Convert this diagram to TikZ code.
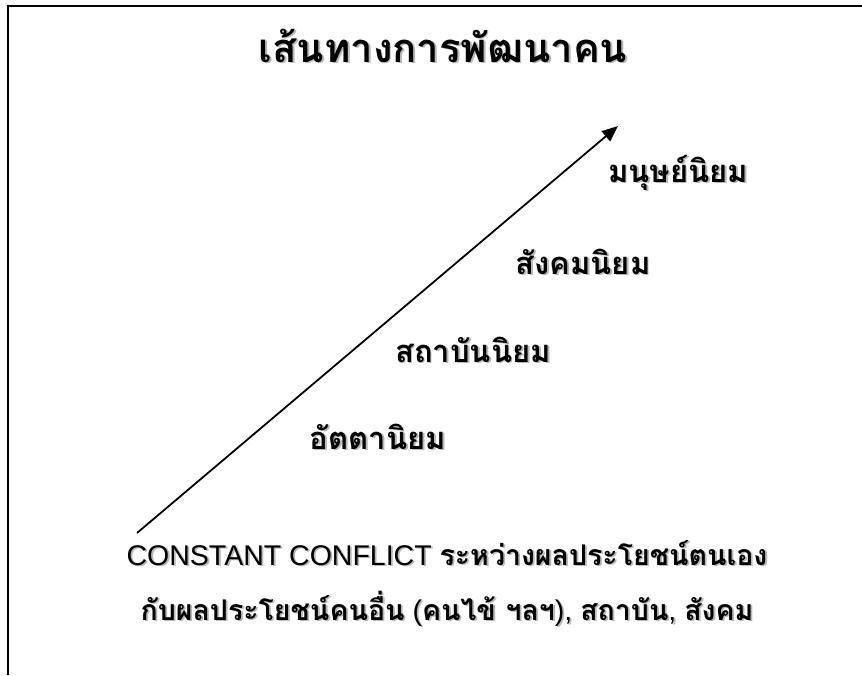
\documentclass[tikz,border=0pt]{standalone}
\usepackage{fontspec}
\setmainfont{Liberation Sans}
\newfontfamily\thai[Script=Thai]{Loma}
\usetikzlibrary{arrows.meta}
\newcommand{\shd}[1]{\makebox[0pt][l]{\kern1.8pt\raisebox{-1.8pt}{\color{black!28}#1}}#1}
\tikzset{
  lbl/.style={anchor=base, inner sep=0pt, font=\thai\bfseries\fontsize{31}{34}\selectfont},
  ttl/.style={anchor=base, inner sep=0pt, font=\thai\bfseries\fontsize{40}{44}\selectfont},
  btm/.style={anchor=base, inner sep=0pt, font=\fontsize{28.5}{32}\selectfont},
  frame/.style={line width=2pt},
  arr/.style={line width=1.8pt, -{Triangle[length=16pt,width=13pt]}}
}
\begin{document}
\begin{tikzpicture}[x=1pt,y=-1pt]
\useasboundingbox (0,0) rectangle (862,675);
\draw[frame] (8,675) -- (8,6) -- (862,6);
\node[ttl] (title) at (443,62) {\shd{เส้นทางการพัฒนาคน}};
\coordinate (s) at (137,533);
\coordinate (e) at (618,126);
\draw[arr] (s) -- (e);
\node[lbl] (l4) at (678,182) {\shd{มนุษย์นิยม}};
\node[lbl] (l3) at (583,274) {\shd{สังคมนิยม}};
\node[lbl] (l2) at (473,362) {\shd{สถาบันนิยม}};
\node[lbl] (l1) at (378,449) {\shd{อัตตานิยม}};
\node[btm] (b1) at (447,565) {\shd{CONSTANT CONFLICT {\thai\bfseries ระหว่างผลประโยชน์ตนเอง}}};
\node[btm] (b2) at (447,620) {\shd{{\thai\bfseries กับผลประโยชน์คนอื่น} ({\thai\bfseries คนไข้ ฯลฯ}), {\thai\bfseries สถาบัน}, {\thai\bfseries สังคม}}};
\end{tikzpicture}
\end{document}
